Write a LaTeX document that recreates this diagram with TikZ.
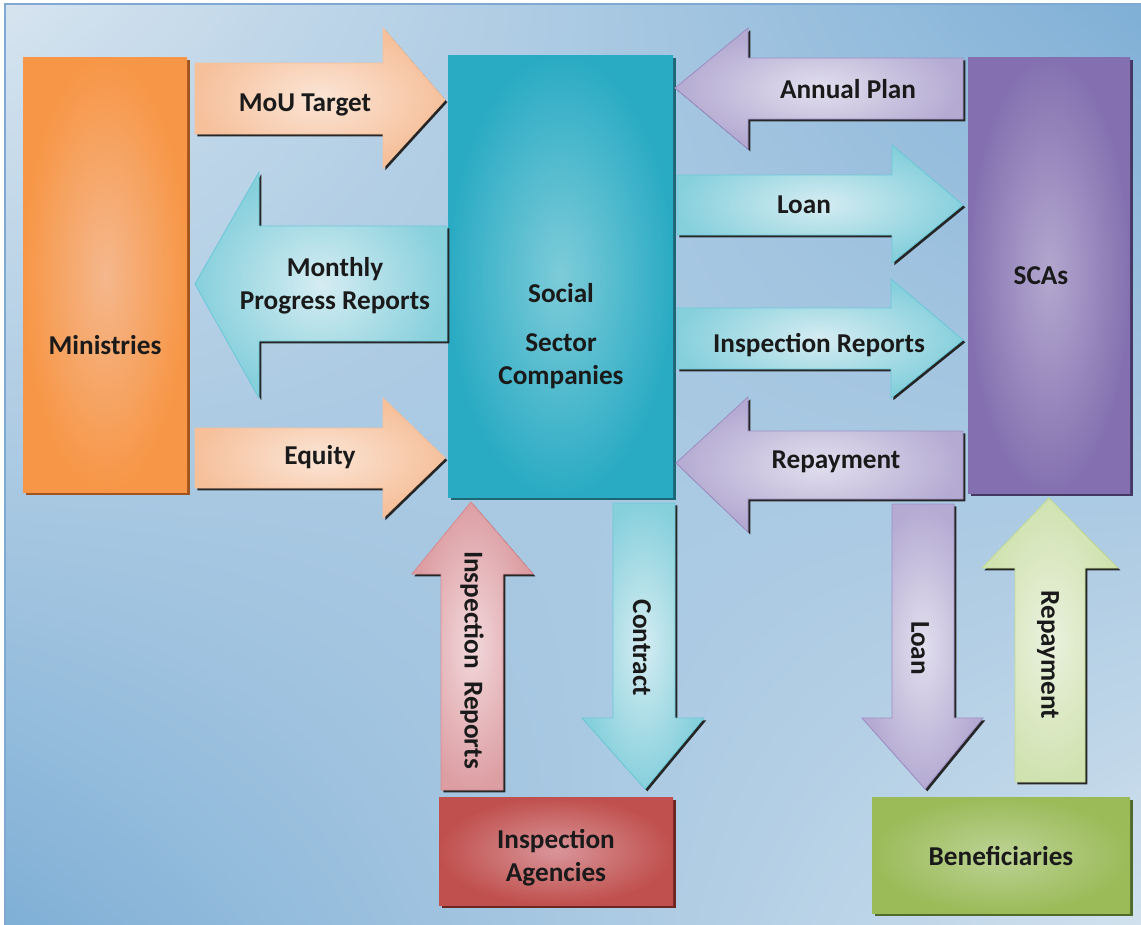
\documentclass[tikz,border=0pt]{standalone}
\usepackage{fontspec}
\setmainfont{Carlito}
\usepackage{tikz}
\usetikzlibrary{shadings,shadows}

\definecolor{bglight}{HTML}{D6E4EF}
\definecolor{bgdark}{HTML}{7FAFD6}
\definecolor{frameblue}{HTML}{7FA9D3}
\definecolor{txt}{HTML}{1A1A1A}
% box colours
\definecolor{minout}{HTML}{F79646}
\definecolor{minin}{HTML}{F5B78C}
\definecolor{minsh}{HTML}{A3541C}
\definecolor{sscout}{HTML}{2AABC4}
\definecolor{sscin}{HTML}{7ECCD9}
\definecolor{sscsh}{HTML}{1D6676}
\definecolor{scaout}{HTML}{8470B0}
\definecolor{scain}{HTML}{B3A8CF}
\definecolor{scash}{HTML}{463864}
\definecolor{iaout}{HTML}{C0504D}
\definecolor{iain}{HTML}{D9959A}
\definecolor{iash}{HTML}{6E2624}
\definecolor{benout}{HTML}{9BBB59}
\definecolor{benin}{HTML}{BDD395}
\definecolor{bensh}{HTML}{4F6A2A}
% arrow colours
\definecolor{peachout}{HTML}{F6C09B}
\definecolor{peachin}{HTML}{FBE5D6}
\definecolor{tealout}{HTML}{86D0DC}
\definecolor{tealin}{HTML}{D5ECF2}
\definecolor{tealline}{HTML}{6CC8D8}
\definecolor{lavout}{HTML}{B4AAD2}
\definecolor{lavin}{HTML}{E2DFEE}
\definecolor{lavline}{HTML}{9D8FC4}
\definecolor{pinkout}{HTML}{DC9EA3}
\definecolor{pinkin}{HTML}{F2D8DB}
\definecolor{pinkline}{HTML}{D68C90}
\definecolor{greenout}{HTML}{D0E2B0}
\definecolor{greenin}{HTML}{EAF1DE}
\definecolor{greenline}{HTML}{C2DA97}

\begin{document}
\begin{tikzpicture}[x=0.02cm, y=-0.02cm,
    lbl/.style={font=\fontsize{15.5}{19}\selectfont\bfseries, text=txt, align=center, inner sep=0pt},
    arr/.style={line width=0.5pt, general shadow={fill=black!85, shadow xshift=1.3pt, shadow yshift=-1.3pt}},
    peacharr/.style={arr, draw=peachout, inner color=peachin, outer color=peachout},
    tealarr/.style={arr, draw=tealline, inner color=tealin, outer color=tealout},
    lavarr/.style={arr, draw=lavline, inner color=lavin, outer color=lavout},
    pinkarr/.style={arr, draw=pinkline, inner color=pinkin, outer color=pinkout},
    greenarr/.style={arr, draw=greenline, inner color=greenin, outer color=greenout}]
    \useasboundingbox (0,0) rectangle (1141,924);
    % background
    \shade[upper left=bglight, upper right=bgdark, lower left=bgdark, lower right=bglight!95!bgdark] (5,4) rectangle (1145,928);
    \draw[frameblue, line width=0.8pt] (5,928) -- (5,4) -- (1145,4);

    % boxes
    \fill[minsh] (26,60) rectangle (190,495);
    \shade[inner color=minin, outer color=minout] (23,57) rectangle (187,492);
    \fill[sscsh] (451,58) rectangle (676,500);
    \shade[inner color=sscin, outer color=sscout] (448,55) rectangle (673,497);
    \fill[scash] (971,60) rectangle (1133,496);
    \shade[inner color=scain, outer color=scaout] (968,57) rectangle (1130,493);
    \fill[iash] (442,800) rectangle (676,908);
    \shade[inner color=iain, outer color=iaout] (439,797) rectangle (673,905);
    \fill[bensh] (875,800) rectangle (1133,916);
    \shade[inner color=benin, outer color=benout] (872,797) rectangle (1130,913);

    \node[lbl] (ministries) at (105,345) {Ministries};
    \node[lbl] (ssc) at (561,336) {Social\\[9pt] Sector\\ Companies};
    \node[lbl] (scas) at (1041,276) {SCAs};
    \node[lbl] (agencies) at (556,858) {Inspection\\ Agencies};
    \node[lbl] (benef) at (1001,856) {Beneficiaries};

    % Ministries <-> Social Sector Companies
    \shade[peacharr] (195,63) -- (383,63) -- (383,28) -- (445,100) -- (383,168) -- (383,134) -- (195,134) -- cycle;
    \node[lbl] (mou) at (305,105) {MoU Target};
    \shade[tealarr] (447,226) -- (259,226) -- (259,172) -- (195,284) -- (259,398) -- (259,341) -- (447,341) -- cycle;
    \node[lbl] (progress) at (335,286) {Monthly\\ Progress Reports};
    \shade[peacharr] (195,428) -- (383,428) -- (383,398) -- (445,458) -- (383,518) -- (383,488) -- (195,488) -- cycle;
    \node[lbl] (equity) at (320,457) {Equity};

    % Social Sector Companies <-> SCAs
    \shade[lavarr] (963,58) -- (748,58) -- (748,28) -- (675,88) -- (748,149) -- (748,119) -- (963,119) -- cycle;
    \node[lbl] (plan) at (848,89) {Annual Plan};
    \shade[tealarr] (677,175) -- (892,175) -- (892,145) -- (963,205) -- (892,263) -- (892,235) -- (677,235) -- cycle;
    \node[lbl] (loanr) at (804,205) {Loan};
    \shade[tealarr] (677,308) -- (891,308) -- (891,279) -- (963,340) -- (891,398) -- (891,369) -- (677,369) -- cycle;
    \node[lbl] (inspr) at (819,345) {Inspection Reports};
    \shade[lavarr] (963,431) -- (748,431) -- (748,397) -- (676,463) -- (748,532) -- (748,499) -- (963,499) -- cycle;
    \node[lbl] (repayl) at (836,462) {Repayment};

    % vertical arrows
    \shade[pinkarr] (441,790) -- (441,574) -- (412,574) -- (471,502) -- (533,574) -- (503,574) -- (503,790) -- cycle;
    \node[lbl, rotate=-90] (inspu) at (472,660) {Inspection\ \ Reports};
    \shade[tealarr] (613,503) -- (613,718) -- (582,718) -- (645,789) -- (704,718) -- (675,718) -- (675,503) -- cycle;
    \node[lbl, rotate=-90] (contract) at (642,648) {Contract};
    \shade[lavarr] (892,504) -- (892,718) -- (862,718) -- (925,789) -- (983,718) -- (954,718) -- (954,504) -- cycle;
    \node[lbl, rotate=-90] (loand) at (920,648) {Loan};
    \shade[greenarr] (1015,782) -- (1015,568) -- (982,568) -- (1049,498) -- (1118,568) -- (1085,568) -- (1085,782) -- cycle;
    \node[lbl, rotate=-90] (repayu) at (1048,655) {Repayment};
\end{tikzpicture}
\end{document}
